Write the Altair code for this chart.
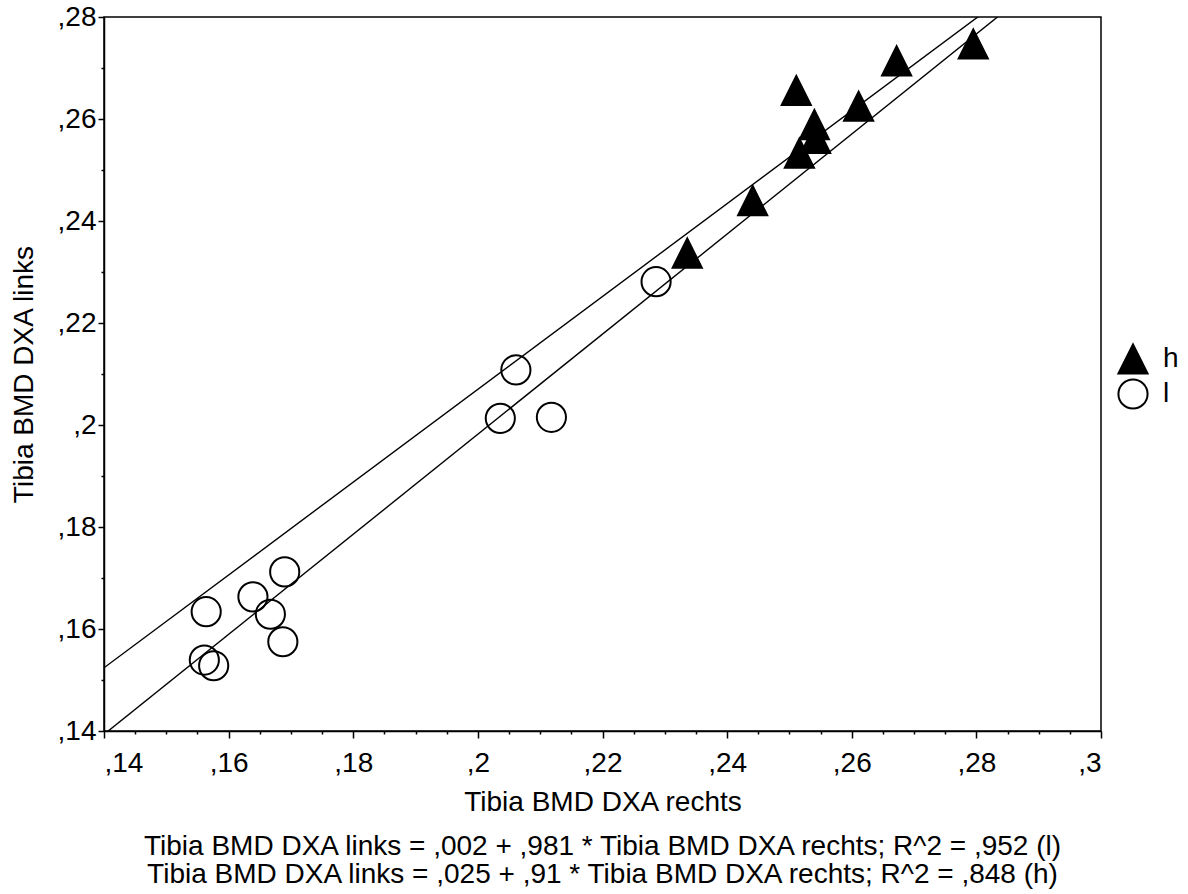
import altair as alt
import pandas as pd

# ---- data ----
l_x = [0.1564, 0.1639, 0.1667, 0.1690, 0.1687, 0.1561, 0.1576, 0.2061, 0.2036, 0.2118, 0.2286]
l_y = [0.1634, 0.1663, 0.1629, 0.1712, 0.1575, 0.1539, 0.1528, 0.2108, 0.2013, 0.2015, 0.2281]
h_x = [0.2336, 0.2441, 0.2516, 0.2540, 0.2542, 0.2511, 0.2611, 0.2672, 0.2795]
h_y = [0.2337, 0.2440, 0.2533, 0.2589, 0.2562, 0.2656, 0.2625, 0.2714, 0.2747]

groups = ["h", "l"]
intercepts = [0.025, 0.002]
slopes = [0.91, 0.981]

x_domain = [0.14, 0.30]
y_domain = [0.14, 0.28]
x_ticks = [0.14, 0.16, 0.18, 0.20, 0.22, 0.24, 0.26, 0.28, 0.30]
y_ticks = [0.14, 0.16, 0.18, 0.20, 0.22, 0.24, 0.26, 0.28]
x_minor = [0.145, 0.15, 0.155, 0.165, 0.17, 0.175, 0.185, 0.19, 0.195, 0.205, 0.21, 0.215,
           0.225, 0.23, 0.235, 0.245, 0.25, 0.255, 0.265, 0.27, 0.275, 0.285, 0.29, 0.295]
y_minor = [0.15, 0.17, 0.19, 0.21, 0.23, 0.25, 0.27]

x_title = "Tibia BMD DXA rechts"
y_title = "Tibia BMD DXA links"
footer = [
    "Tibia BMD DXA links = ,002 + ,981 * Tibia BMD DXA rechts; R^2 = ,952 (l)",
    "Tibia BMD DXA links = ,025 + ,91 * Tibia BMD DXA rechts; R^2 = ,848 (h)",
]

# ---- tables ----
pts = pd.DataFrame({
    "x": l_x + h_x,
    "y": l_y + h_y,
    "group": ["l"] * len(l_x) + ["h"] * len(h_x),
})
line_rows = []
for g, a, b in zip(groups, intercepts, slopes):
    for xv in x_domain:
        line_rows.append({"x": xv, "y": a + b * xv, "group": g})
lines_df = pd.DataFrame(line_rows)

FONT = "Liberation Sans"
FS = 28
label_expr = "replace(format(datum.value, '.2~f'), '0.', ',')"
tri = "M0,-1L1,1L-1,1Z"

xs = alt.Scale(domain=x_domain, nice=False, zero=False)
ys = alt.Scale(domain=y_domain, nice=False, zero=False)

legend = alt.Legend(
    title=None, orient="none", legendX=1013, legendY=326,
    labelFontSize=FS, labelFont=FONT, labelColor="black",
    symbolSize=850, symbolStrokeWidth=2,
    rowPadding=-4, labelOffset=14,
)

points = alt.Chart(pts).mark_point(
    filled=True, strokeWidth=2, opacity=1, size=850
).encode(
    x=alt.X("x:Q", scale=xs, axis=alt.Axis(
        values=x_ticks, labelExpr=label_expr, title=x_title, tickSize=7,
        labelPadding=11, titlePadding=11, grid=False, orient="bottom")),
    y=alt.Y("y:Q", scale=ys, axis=alt.Axis(
        values=y_ticks, labelExpr=label_expr, title=y_title, tickSize=6,
        labelPadding=2, titlePadding=19, grid=False, orient="left")),
    shape=alt.Shape("group:N", scale=alt.Scale(domain=groups, range=[tri, "circle"]), legend=legend),
    fill=alt.Fill("group:N", scale=alt.Scale(domain=groups, range=["black", "transparent"]), legend=legend),
    stroke=alt.Stroke("group:N", scale=alt.Scale(domain=groups, range=["black", "black"]), legend=legend),
)

lines = alt.Chart(lines_df).mark_line(color="black", strokeWidth=1.4, clip=True).encode(
    x=alt.X("x:Q", scale=xs, axis=alt.Axis(
        values=x_minor, labels=False, tickSize=3, domain=False, grid=False,
        title=None, orient="bottom")),
    y=alt.Y("y:Q", scale=ys, axis=alt.Axis(
        values=y_minor, labels=False, tickSize=3, domain=False, grid=False,
        title=None, orient="left")),
    detail="group:N",
)

chart = alt.layer(points, lines).resolve_axis(x="independent", y="independent").properties(
    width=997, height=714,
    background="white",
    autosize=alt.AutoSizeParams(type="none"),
    padding={"left": 104, "top": 17, "right": 87, "bottom": 163},
    title=alt.TitleParams(
        text=footer, orient="bottom", anchor="middle", fontSize=FS, font=FONT,
        fontWeight="normal", color="black", lineHeight=28, offset=17,
    ),
).configure_view(
    stroke="black", strokeWidth=1.5
).configure_axis(
    domainColor="black", domainWidth=1.5, tickColor="black", tickWidth=1.5,
    labelColor="black", labelFont=FONT, labelFontSize=FS,
    titleColor="black", titleFont=FONT, titleFontSize=FS, titleFontWeight="normal",
)

chart.save("out.html", embed_options={"renderer": "svg", "actions": False})
